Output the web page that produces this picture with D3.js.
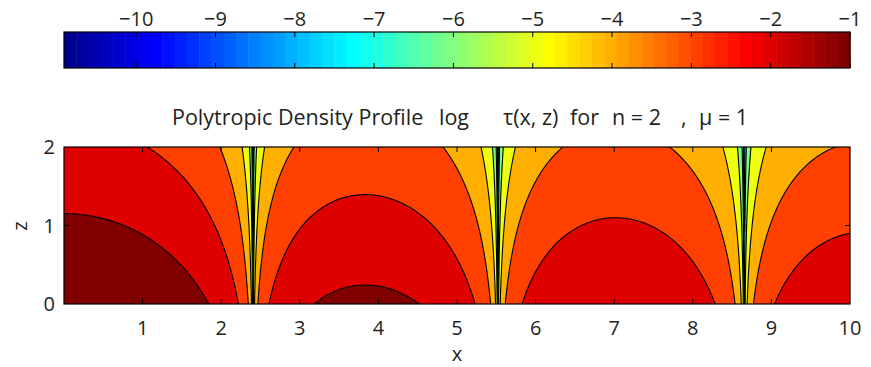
<!DOCTYPE html>
<html>
<head>
<meta charset="utf-8">
<script src="https://cdn.jsdelivr.net/npm/d3@7"></script>
<style>
  body { margin: 0; background: #fff; }
  svg text { font-family: "Open Sans", "DejaVu Sans", sans-serif; fill: #231f20; }
</style>
</head>
<body>
<div id="chart"></div>
<script>
// contour levels of log10 tau, and the colour range used by the colour map
const levels = [-10, -9, -8, -7, -6, -5, -4, -3, -2, -1];
const colorRange = [-10.91, -1];
const colorbarTicks = [-10, -9, -8, -7, -6, -5, -4, -3, -2, -1];
const xTicks = [1, 2, 3, 4, 5, 6, 7, 8, 9, 10];
const zTicks = [0, 1, 2];
const xDomain = [0, 10];
const zDomain = [0, 2];
// parameters from the title
const polyIndex = 2;
const mu = 1;
const titleParts = [
  { text: 'Polytropic Density Profile', x: 172 },
  { text: 'log', x: 439 },
  { text: '\u03c4(x, z)', x: 503 },
  { text: 'for', x: 570 },
  { text: 'n = 2', x: 612 },
  { text: ',', x: 681 },
  { text: '\u03bc = 1', x: 699 }
];

const width = 871, height = 367;
const plot = { left: 64, right: 850, top: 147, bottom: 304 };
const cbar = { top: 32, bottom: 68 };

// MATLAB style jet(64)
function jet64() {
  const n = 16, u = [];
  for (let k = 1; k <= n; k++) u.push(k / n);
  for (let k = 0; k < n - 1; k++) u.push(1);
  for (let k = n; k >= 1; k--) u.push(k / n);
  const at = i => (i >= 1 && i <= u.length) ? u[i - 1] : 0;
  const cols = [];
  for (let i = 1; i <= 64; i++) {
    cols.push(d3.rgb(Math.round(at(i - 24) * 255), Math.round(at(i - 8) * 255), Math.round(at(i + 8) * 255)).toString());
  }
  return cols;
}
const cmap = jet64();
function colorOf(v) {
  let idx = Math.floor((v - colorRange[0]) / (colorRange[1] - colorRange[0]) * 64);
  idx = Math.max(0, Math.min(63, idx));
  return cmap[idx];
}

// Bessel J0 by power series
function besselJ0(x) {
  const q = x * x / 4;
  let term = 1, sum = 1;
  for (let k = 1; k < 60; k++) {
    term *= -q / (k * k);
    sum += term;
  }
  return sum;
}

const svg = d3.select('#chart').append('svg')
  .attr('width', width)
  .attr('height', height);

const x = d3.scaleLinear().domain(xDomain).range([plot.left, plot.right]);
const z = d3.scaleLinear().domain(zDomain).range([plot.bottom, plot.top]);

// ---- colour bar ----
const cb = d3.scaleLinear().domain(colorRange).range([plot.left, plot.right]);
const step = (colorRange[1] - colorRange[0]) / 64;
svg.append('g').selectAll('rect')
  .data(cmap)
  .enter().append('rect')
  .attr('x', (d, i) => cb(colorRange[0] + i * step))
  .attr('y', cbar.top)
  .attr('width', (d, i) => cb(colorRange[0] + (i + 1) * step) - cb(colorRange[0] + i * step) + 0.5)
  .attr('height', cbar.bottom - cbar.top)
  .attr('fill', d => d);

const cbTicks = svg.append('g');
colorbarTicks.forEach(t => {
  cbTicks.append('line').attr('x1', cb(t)).attr('x2', cb(t))
    .attr('y1', cbar.top).attr('y2', cbar.top + 5).attr('stroke', '#000');
  cbTicks.append('line').attr('x1', cb(t)).attr('x2', cb(t))
    .attr('y1', cbar.bottom).attr('y2', cbar.bottom - 5).attr('stroke', '#000');
  cbTicks.append('text').attr('x', cb(t)).attr('y', 26)
    .attr('text-anchor', 'middle').attr('font-size', 20)
    .text(d3.format('')(t).replace('-', '\u2212'));
});
svg.append('rect')
  .attr('x', plot.left).attr('y', cbar.top)
  .attr('width', plot.right - plot.left).attr('height', cbar.bottom - cbar.top)
  .attr('fill', 'none').attr('stroke', '#000').attr('stroke-width', 1.2);

// ---- field grid (slightly larger than the axes, then clipped) ----
const pad = 0.05;
const nx = 1700, nz = 340;
const gx0 = xDomain[0] - pad, gx1 = xDomain[1] + pad;
const gz0 = zDomain[0] - pad, gz1 = zDomain[1] + pad;
const values = new Float64Array(nx * nz);
for (let j = 0; j < nz; j++) {
  const zz = gz1 - (j + 0.5) / nz * (gz1 - gz0);
  for (let i = 0; i < nx; i++) {
    const xx = gx0 + (i + 0.5) / nx * (gx1 - gx0);
    const tau = Math.pow(Math.abs(besselJ0(xx)) * Math.exp(-mu * zz), polyIndex);
    values[j * nx + i] = Math.log10(Math.max(tau, 1e-300));
  }
}

const contours = d3.contours().size([nx, nz]).thresholds(levels)(values);

svg.append('clipPath').attr('id', 'clip')
  .append('rect')
  .attr('x', plot.left).attr('y', plot.top)
  .attr('width', plot.right - plot.left).attr('height', plot.bottom - plot.top);

const gx = d3.scaleLinear().domain([0, nx]).range([x(gx0), x(gx1)]);
const gz = d3.scaleLinear().domain([0, nz]).range([z(gz1), z(gz0)]);
const path = d3.geoPath(d3.geoTransform({
  point: function (px, py) { this.stream.point(gx(px), gz(py)); }
}));

const field = svg.append('g').attr('clip-path', 'url(#clip)');
field.append('rect')
  .attr('x', plot.left).attr('y', plot.top)
  .attr('width', plot.right - plot.left).attr('height', plot.bottom - plot.top)
  .attr('fill', colorOf(colorRange[0]));
field.selectAll('path')
  .data(contours)
  .enter().append('path')
  .attr('d', path)
  .attr('fill', d => colorOf(d.value))
  .attr('stroke', '#000')
  .attr('stroke-width', 1.1)
  .attr('stroke-linejoin', 'round');

// ---- axes frame and ticks ----
const axes = svg.append('g');
axes.append('rect')
  .attr('x', plot.left).attr('y', plot.top)
  .attr('width', plot.right - plot.left).attr('height', plot.bottom - plot.top)
  .attr('fill', 'none').attr('stroke', '#000').attr('stroke-width', 1.2);

xTicks.forEach(t => {
  if (t < xDomain[1]) {
    axes.append('line').attr('x1', x(t)).attr('x2', x(t))
      .attr('y1', plot.bottom).attr('y2', plot.bottom - 5).attr('stroke', '#000');
    axes.append('line').attr('x1', x(t)).attr('x2', x(t))
      .attr('y1', plot.top).attr('y2', plot.top + 5).attr('stroke', '#000');
  }
  axes.append('text').attr('x', x(t)).attr('y', 335)
    .attr('text-anchor', 'middle').attr('font-size', 20).text(t);
});
zTicks.forEach(t => {
  if (t > zDomain[0] && t < zDomain[1]) {
    axes.append('line').attr('x1', plot.left).attr('x2', plot.left + 5)
      .attr('y1', z(t)).attr('y2', z(t)).attr('stroke', '#000');
    axes.append('line').attr('x1', plot.right).attr('x2', plot.right - 5)
      .attr('y1', z(t)).attr('y2', z(t)).attr('stroke', '#000');
  }
  axes.append('text').attr('x', 55).attr('y', z(t))
    .attr('dy', '0.35em')
    .attr('text-anchor', 'end').attr('font-size', 20).text(t);
});

svg.append('text').attr('x', 457).attr('y', 361)
  .attr('text-anchor', 'middle').attr('font-size', 20).text('x');
svg.append('text')
  .attr('transform', 'translate(27,226) rotate(-90)')
  .attr('text-anchor', 'middle').attr('font-size', 20).text('z');

// ---- title ----
svg.append('g').attr('font-size', 21.5)
  .selectAll('text')
  .data(titleParts)
  .enter().append('text')
  .attr('x', d => d.x)
  .attr('y', 125)
  .text(d => d.text);
</script>
</body>
</html>
